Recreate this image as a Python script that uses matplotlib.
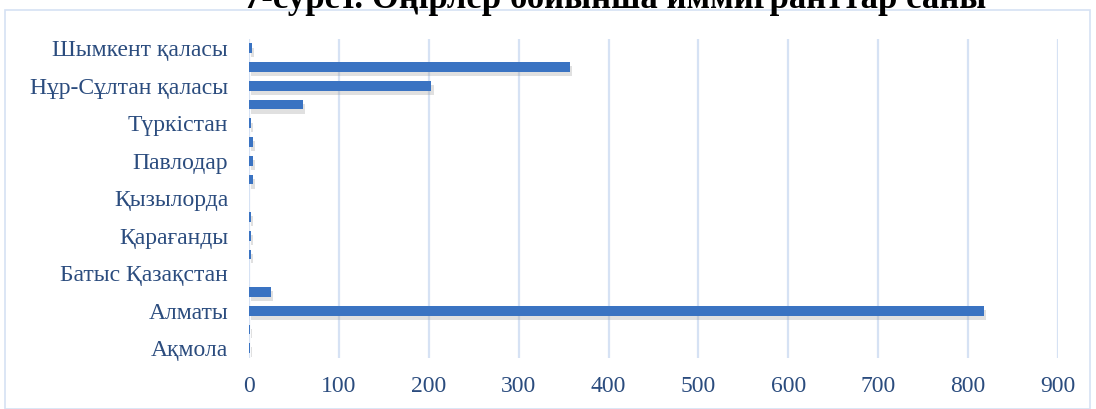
import matplotlib.pyplot as plt
import matplotlib.patheffects as pe
from matplotlib.patches import Rectangle

regions = ["Ақмола", "Ақтөбе", "Алматы", "Атырау", "Батыс Қазақстан", "Жамбыл",
           "Қарағанды", "Қостанай", "Қызылорда", "Маңғыстау", "Павлодар",
           "Солтүстік Қазақстан", "Түркістан", "Шығыс Қазақстан",
           "Нұр-Сұлтан қаласы", "Алматы қаласы", "Шымкент қаласы"]
immigrants = [1, 1, 818, 24, 0, 2, 2, 2, 0, 4, 4, 4, 2, 60, 203, 357, 3]
x_ticks = [0, 100, 200, 300, 400, 500, 600, 700, 800, 900]
title = "7-сурет. Өңірлер бойынша иммигранттар саны"

plt.rcParams['font.family'] = ['Liberation Serif', 'DejaVu Serif']
text_color = '#2B4C7E'
grid_color = '#D6E2F4'

fig = plt.figure(figsize=(10.96, 4.09), dpi=100)
ax = fig.add_axes([249 / 1096, 1 - 357.5 / 409, (1058 - 249) / 1096, 318.5 / 409])

ypos = list(range(len(regions)))
bars = ax.barh(ypos, immigrants, height=0.52, color='#3A73C2', zorder=3)
for b in bars:
    b.set_path_effects([pe.SimplePatchShadow(offset=(1.5, -3), shadow_rgbFace='#999999', alpha=0.3),
                        pe.Normal()])

ax.set_xlim(0, 900)
ax.set_ylim(-0.5, 16.5)
ax.set_xticks(x_ticks)
ax.set_xticklabels([str(v) for v in x_ticks])
ax.set_yticks(ypos[::2])
ax.set_yticklabels(regions[::2])
ax.tick_params(axis='x', length=0, pad=13, labelsize=17, labelcolor=text_color)
ax.tick_params(axis='y', length=0, pad=15, labelsize=17, labelcolor=text_color)
ax.grid(axis='x', color=grid_color, linewidth=1.6, zorder=0)
for s in ax.spines.values():
    s.set_visible(False)

# chart border
fig.add_artist(Rectangle((5 / 1096, 0), 1085 / 1096, 399 / 409, transform=fig.transFigure,
                         fill=False, edgecolor=grid_color, linewidth=1.2))

# title, partially cut off at the top
fig.text(615 / 1096, 1 - 8 / 409, title, ha='center', va='baseline',
         fontsize=25, fontweight='bold', color='black')

fig.savefig('out.png', dpi=100)
